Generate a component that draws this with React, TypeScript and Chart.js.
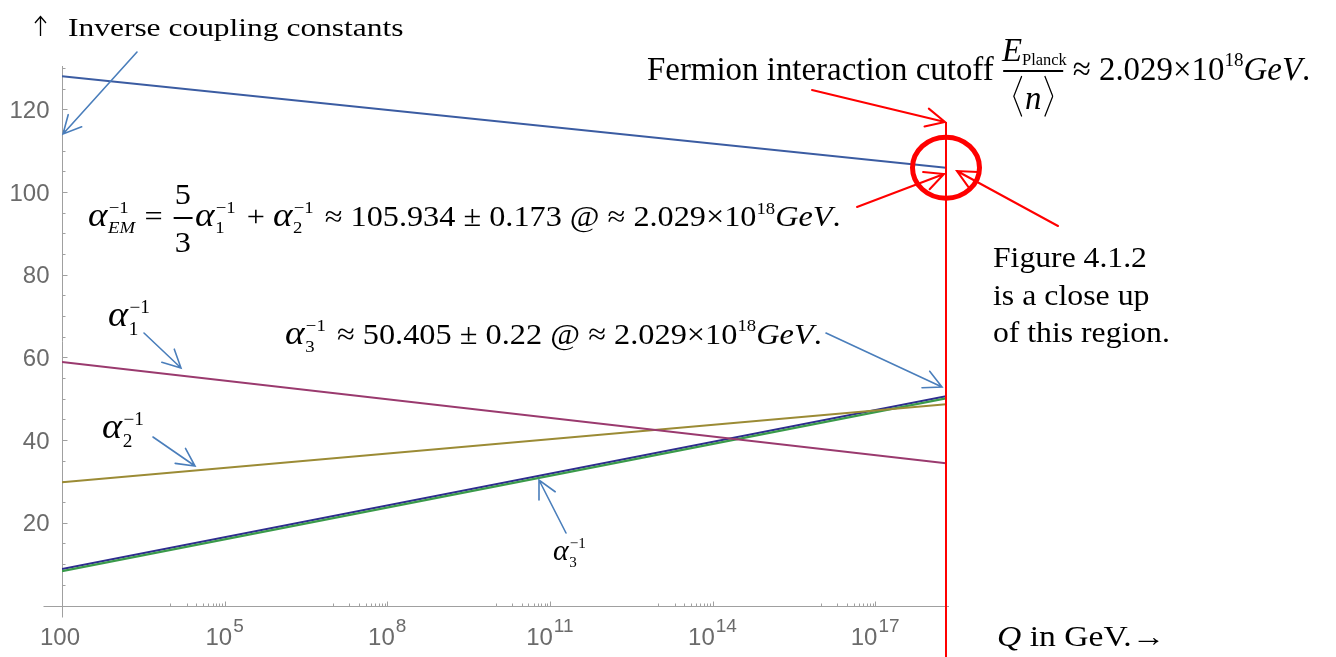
import React, { useEffect, useLayoutEffect, useRef, useState } from "react";
import { Chart, registerables } from "chart.js";
Chart.register(...registerables);

// ---- data ----
const Q_GEV = [1e2, 2.029e18];
const INV_ALPHA_EM = [128.0, 105.9];
const INV_ALPHA_1 = [58.9, 34.4];
const INV_ALPHA_2 = [29.8, 48.7];
const INV_ALPHA_3 = [8.8, 50.6];
const INV_ALPHA_3B = [8.3, 50.1];
const X_TICKS = [1e2, 1e5, 1e8, 1e11, 1e14, 1e17];
const X_TICK_BASE = ["100", "10", "10", "10", "10", "10"];
const X_TICK_EXP = ["", "5", "8", "11", "14", "17"];
const Y_TICKS = [20, 40, 60, 80, 100, 120];
const CUTOFF = 2.029e18;

const SERIF = '"Liberation Serif","Times New Roman",serif';
const TICK_FONT = '"Liberation Sans", Arial, sans-serif';

function arrow(ctx: CanvasRenderingContext2D, x1: number, y1: number, x2: number, y2: number, color: string, lw: number, head = 20, angDeg = 27) {
  const a = Math.atan2(y2 - y1, x2 - x1);
  const ang = (angDeg * Math.PI) / 180;
  ctx.save();
  ctx.strokeStyle = color;
  ctx.lineWidth = lw;
  ctx.lineCap = "round";
  ctx.beginPath();
  ctx.moveTo(x1, y1);
  ctx.lineTo(x2, y2);
  ctx.moveTo(x2 - head * Math.cos(a - ang), y2 - head * Math.sin(a - ang));
  ctx.lineTo(x2, y2);
  ctx.lineTo(x2 - head * Math.cos(a + ang), y2 - head * Math.sin(a + ang));
  ctx.stroke();
  ctx.restore();
}

const decor = {
  id: "decor",
  beforeDatasetsDraw(chart: any) {
    const ctx: CanvasRenderingContext2D = chart.ctx;
    const xs = chart.scales.x;
    const ys = chart.scales.y;
    const x0 = Math.round(xs.getPixelForValue(100)) + 0.5;
    const y0 = Math.round(ys.getPixelForValue(0)) + 0.5;
    ctx.save();
    ctx.strokeStyle = "#a0a0a0";
    ctx.lineWidth = 1;
    ctx.beginPath();
    ctx.moveTo(x0, ys.top);
    ctx.lineTo(x0, y0 + 11);
    ctx.moveTo(x0 - 19, y0);
    ctx.lineTo(xs.right + 3, y0);
    for (let v = 5; v <= 130; v += 5) {
      const py = Math.round(ys.getPixelForValue(v)) + 0.5;
      const len = v % 20 === 0 ? 5 : 3;
      ctx.moveTo(x0, py);
      ctx.lineTo(x0 + len, py);
    }
    for (let i = 1; i < X_TICKS.length; i++) {
      const dec = X_TICKS[i] / 10;
      for (let k = 1; k <= 10; k++) {
        const px = Math.round(xs.getPixelForValue(k * dec)) + 0.5;
        const len = k === 10 ? 5 : 3;
        ctx.moveTo(px, y0);
        ctx.lineTo(px, y0 - len);
      }
    }
    ctx.stroke();

    ctx.fillStyle = "#6b6b6b";
    ctx.textBaseline = "alphabetic";
    ctx.font = `24px ${TICK_FONT}`;
    ctx.textAlign = "right";
    Y_TICKS.forEach((v) => {
      const py = ys.getPixelForValue(v);
      ctx.fillText(String(v), x0 - 13, py + 8.5);
    });
    ctx.textAlign = "left";
    X_TICKS.forEach((v, i) => {
      const px = xs.getPixelForValue(v);
      ctx.font = `24px ${TICK_FONT}`;
      const wb = ctx.measureText(X_TICK_BASE[i]).width;
      ctx.font = `19px ${TICK_FONT}`;
      const we = X_TICK_EXP[i] ? ctx.measureText(X_TICK_EXP[i]).width + 1 : 0;
      const start = px - (wb + we) / 2 - (i === 0 ? 2 : 0);
      ctx.font = `24px ${TICK_FONT}`;
      ctx.fillText(X_TICK_BASE[i], start, 645);
      if (X_TICK_EXP[i]) {
        ctx.font = `19px ${TICK_FONT}`;
        ctx.fillText(X_TICK_EXP[i], start + wb + 1, 632);
      }
    });
    ctx.restore();
  },
  afterDatasetsDraw(chart: any) {
    const ctx: CanvasRenderingContext2D = chart.ctx;
    const xs = chart.scales.x;
    const ys = chart.scales.y;
    const xr = xs.getPixelForValue(CUTOFF);
    const yem = ys.getPixelForValue(INV_ALPHA_EM[1]);
    ctx.save();
    ctx.strokeStyle = "#ff0000";
    ctx.lineWidth = 2;
    ctx.beginPath();
    ctx.moveTo(xr, 122);
    ctx.lineTo(xr, 657);
    ctx.stroke();
    ctx.lineWidth = 5;
    ctx.beginPath();
    ctx.ellipse(xr, yem, 33.5, 30.5, 0, 0, Math.PI * 2);
    ctx.stroke();
    ctx.restore();
    const blue = "#4a7ebb";
    arrow(ctx, 137, 52, 63, 134, blue, 1.6);
    arrow(ctx, 144, 333, 181, 368, blue, 1.6);
    arrow(ctx, 153, 437, 195, 466, blue, 1.6);
    arrow(ctx, 566, 533, 539, 480, blue, 1.6);
    arrow(ctx, 826, 333, 942, 387, blue, 1.6);
    const red = "#ff0000";
    arrow(ctx, 812, 90, 945, 122, red, 2, 21, 26);
    arrow(ctx, 857, 207, 944, 174, red, 2, 21, 26);
    arrow(ctx, 1058, 226, 957, 171, red, 2, 21, 26);
    // thin "up" arrow before the y-axis title
    ctx.save();
    ctx.strokeStyle = "#000";
    ctx.lineWidth = 1.3;
    ctx.beginPath();
    ctx.moveTo(40.5, 36);
    ctx.lineTo(40.5, 17);
    ctx.moveTo(35, 23);
    ctx.lineTo(40.5, 16.5);
    ctx.lineTo(46, 23);
    ctx.stroke();
    ctx.restore();
  },
};

function Fit(props: { x: number; y: number; w: number; size: number; children: any }) {
  const ref = useRef<HTMLDivElement>(null);
  const mref = useRef<HTMLSpanElement>(null);
  const [st, setSt] = useState({ sx: 1, dy: props.size * 0.84 });
  useLayoutEffect(() => {
    const el = ref.current!;
    const m = mref.current!;
    const nat = el.offsetWidth;
    setSt({ sx: props.w / nat, dy: m.offsetTop });
  }, []);
  return (
    <div
      ref={ref}
      style={{
        position: "absolute",
        left: props.x,
        top: props.y - st.dy,
        transform: `scaleX(${st.sx})`,
        transformOrigin: "0 0",
        whiteSpace: "nowrap",
        fontFamily: SERIF,
        fontSize: props.size,
        lineHeight: 1,
        color: "#000",
      }}
    >
      <span ref={mref} style={{ display: "inline-block", width: 0, height: 0 }} />
      {props.children}
    </div>
  );
}

function Sup({ F, t }: { F: number; t: string }) {
  return <span style={{ position: "relative", top: -0.42 * F, fontSize: 0.58 * F }}>{t}</span>;
}

function Alpha({ F, sub, sup = "\u22121", w = 0.75, big = 1.15 }: { F: number; sub: string; sup?: string; w?: number; big?: number }) {
  return (
    <span>
      <i style={{ fontSize: big * F }}>α</i>
      <span style={{ display: "inline-block", position: "relative", width: w * F, height: 0 }}>
        <span style={{ position: "absolute", left: 0.04 * F, bottom: 0.33 * F, fontSize: 0.58 * F, lineHeight: 1 }}>{sup}</span>
        <span style={{ position: "absolute", left: 0.02 * F, top: -0.2 * F, fontSize: 0.58 * F, lineHeight: 1, fontStyle: sub === "EM" ? "italic" : "normal" }}>{sub}</span>
      </span>
    </span>
  );
}

function Bracket({ dir, h, w }: { dir: "l" | "r"; h: number; w: number }) {
  const pts = dir === "l" ? `${w - 1},1 1,${h / 2} ${w - 1},${h - 1}` : `1,1 ${w - 1},${h / 2} 1,${h - 1}`;
  return (
    <svg width={w} height={h} style={{ display: "block" }}>
      <polyline points={pts} fill="none" stroke="#000" strokeWidth={1.3} />
    </svg>
  );
}

function FracEP({ F }: { F: number }) {
  const W = 1.9 * F;
  return (
    <span style={{ display: "inline-block", position: "relative", width: W, height: 0 }}>
      <span style={{ position: "absolute", left: 0, width: W, textAlign: "center", top: -0.55 * F - 0.84 * F, lineHeight: 1 }}>
        <i>E</i>
        <span style={{ fontSize: 0.5 * F, position: "relative", top: 0.12 * F }}>Planck</span>
      </span>
      <span style={{ position: "absolute", left: 0.05 * F, width: W - 0.1 * F, top: -0.28 * F, height: 1.5, background: "#000" }} />
      <span style={{ position: "absolute", left: 0, width: W, top: -0.17 * F, display: "flex", justifyContent: "center", alignItems: "center", height: 1.3 * F }}>
        <Bracket dir="l" h={1.25 * F} w={0.3 * F} />
        <i style={{ lineHeight: 1, margin: "0 0.08em", position: "relative", top: 0.05 * F }}>n</i>
        <Bracket dir="r" h={1.25 * F} w={0.3 * F} />
      </span>
    </span>
  );
}

function Frac53({ F }: { F: number }) {
  const W = 0.75 * F;
  return (
    <span style={{ display: "inline-block", position: "relative", width: W, height: 0 }}>
      <span style={{ position: "absolute", left: 0, width: W, textAlign: "center", top: -0.75 * F - 0.84 * F, lineHeight: 1 }}>5</span>
      <span style={{ position: "absolute", left: 0.08 * F, width: W - 0.16 * F, top: -0.3 * F, height: 1.3, background: "#000" }} />
      <span style={{ position: "absolute", left: 0, width: W, textAlign: "center", top: 0.9 * F - 0.84 * F, lineHeight: 1 }}>3</span>
    </span>
  );
}

function Texts() {
  return (
    <>
      <Fit x={68} y={36} w={336} size={25}>
        Inverse coupling constants
      </Fit>
      <Fit x={647} y={80} w={663} size={34}>
        Fermion interaction cutoff <FracEP F={34} /> ≈ 2.029×10<Sup F={34} t="18" />
        <i>GeV</i>.
      </Fit>
      <Fit x={88} y={226} w={752} size={29}>
        <Alpha F={29} sub="EM" w={0.9} /> = <Frac53 F={29} />
        <Alpha F={29} sub="1" /> + <Alpha F={29} sub="2" /> ≈ 105.934 ± 0.173 @ ≈ 2.029×10
        <Sup F={29} t="18" />
        <i>GeV</i>.
      </Fit>
      <Fit x={285} y={344} w={537} size={30}>
        <Alpha F={30} sub="3" /> ≈ 50.405 ± 0.22 @ ≈ 2.029×10
        <Sup F={30} t="18" />
        <i>GeV</i>.
      </Fit>
      <Fit x={108} y={326} w={45} size={31}>
        <Alpha F={31} sub="1" />
      </Fit>
      <Fit x={102} y={438} w={45} size={31}>
        <Alpha F={31} sub="2" />
      </Fit>
      <Fit x={553} y={560} w={35} size={26}>
        <Alpha F={26} sub="3" />
      </Fit>
      <Fit x={993} y={267} w={154} size={29}>
        Figure 4.1.2
      </Fit>
      <Fit x={993} y={305} w={157} size={29}>
        is a close up
      </Fit>
      <Fit x={993} y={342} w={177} size={29}>
        of this region.
      </Fit>
      <Fit x={997} y={646} w={168} size={29}>
        <i>Q</i> in GeV.→
      </Fit>
    </>
  );
}

export default function App() {
  const canvasRef = useRef<HTMLCanvasElement>(null);
  useEffect(() => {
    const mk = (ys: number[]) => Q_GEV.map((x, i) => ({ x, y: ys[i] }));
    const chart = new Chart(canvasRef.current!, {
      type: "line",
      data: {
        datasets: [
          { data: mk(INV_ALPHA_EM), borderColor: "#3b5ca2", borderWidth: 2 },
          { data: mk(INV_ALPHA_1), borderColor: "#9a3a6e", borderWidth: 2 },
          { data: mk(INV_ALPHA_2), borderColor: "#9b8b35", borderWidth: 2 },
          { data: mk(INV_ALPHA_3B), borderColor: "#3a9a4a", borderWidth: 2.2 },
          { data: mk(INV_ALPHA_3), borderColor: "#2e2d8e", borderWidth: 2 },
        ],
      },
      options: {
        animation: false,
        responsive: false,
        devicePixelRatio: 1,
        layout: { padding: { left: 62, right: 390, top: 66, bottom: 51.5 } },
        elements: { point: { radius: 0 }, line: { tension: 0 } },
        plugins: { legend: { display: false }, tooltip: { enabled: false } },
        scales: {
          x: { type: "logarithmic", min: 100, max: CUTOFF, display: false },
          y: { type: "linear", min: 0, max: 130.5, display: false },
        },
      },
      plugins: [decor],
    } as any);
    return () => chart.destroy();
  }, []);
  return (
    <div style={{ position: "absolute", left: 0, top: 0, width: 1336, height: 657, background: "#fff", overflow: "hidden" }}>
      <canvas ref={canvasRef} width={1336} height={657} style={{ position: "absolute", left: 0, top: 0 }} />
      <Texts />
    </div>
  );
}
